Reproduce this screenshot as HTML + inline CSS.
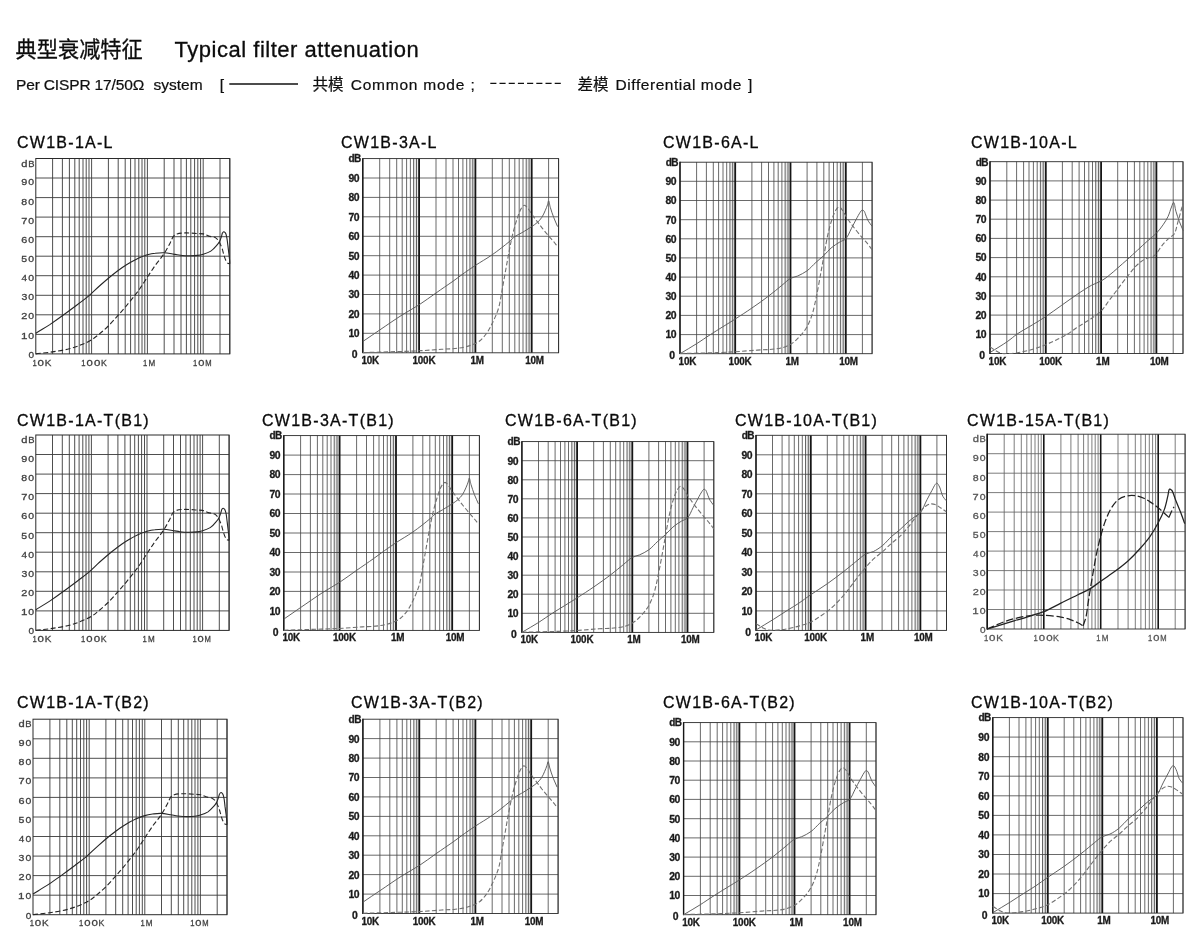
<!DOCTYPE html>
<html lang="zh-CN">
<head>
<meta charset="utf-8">
<title>典型衰减特征 Typical filter attenuation</title>
<style>
html,body{margin:0;padding:0;background:#fff;}
body{width:1200px;height:950px;position:relative;overflow:hidden;
 font-family:"Liberation Sans","Noto Sans CJK SC",sans-serif;color:#111;}
.abs{position:absolute;white-space:nowrap;line-height:1;}
.h1{font-size:21.2px;top:38px;color:#0c0c0c;-webkit-text-stroke:0.3px #0c0c0c;}
.sub{font-size:15.5px;top:76.6px;color:#0f0f0f;-webkit-text-stroke:0.22px #0f0f0f;}
svg{position:absolute;left:0;top:0;}
svg text{font-family:"Liberation Sans","Noto Sans CJK SC",sans-serif;}
.ct{font-size:16px;letter-spacing:1.27px;fill:#0a0a0a;stroke:#0a0a0a;stroke-width:0.3px;}
</style>
</head>
<body>
<div class="abs h1" style="left:15.6px;top:39px;">典型衰减特征</div>
<div class="abs h1" style="left:174.5px;top:38.5px;font-size:22px;letter-spacing:0.52px;">Typical filter attenuation</div>
<div class="abs sub" style="left:16px;letter-spacing:-0.15px;">Per CISPR 17/50Ω</div>
<div class="abs sub" style="left:153.5px;">system</div>
<div class="abs sub" style="left:219.8px;">[</div>
<div class="abs sub" style="left:312.5px;">共模</div>
<div class="abs sub" style="left:350.8px;letter-spacing:0.75px;">Common mode</div>
<div class="abs sub" style="left:470.5px;">;</div>
<div class="abs sub" style="left:577.5px;">差模</div>
<div class="abs sub" style="left:615.6px;letter-spacing:0.55px;">Differential mode</div>
<div class="abs sub" style="left:748px;">]</div>
<svg width="1200" height="950" viewBox="0 0 1200 950">
<path d="M229.3 84H298" stroke="#111" stroke-width="1.5" fill="none"/>
<path d="M490.3 83.4H562" stroke="#111" stroke-width="1.4" stroke-dasharray="6.1 3.1" fill="none"/>

<text class="ct" x="17" y="147.8">CW1B-1A-L</text>
<g>
<path d="M52.6 158.5V353.9M62.4 158.5V353.9M69.4 158.5V353.9M74.8 158.5V353.9M79.2 158.5V353.9M83.0 158.5V353.9M86.2 158.5V353.9M89.0 158.5V353.9M108.4 158.5V353.9M118.2 158.5V353.9M125.2 158.5V353.9M130.6 158.5V353.9M135.0 158.5V353.9M138.8 158.5V353.9M142.0 158.5V353.9M144.8 158.5V353.9M164.2 158.5V353.9M174.0 158.5V353.9M181.0 158.5V353.9M186.4 158.5V353.9M190.8 158.5V353.9M194.6 158.5V353.9M197.8 158.5V353.9M200.6 158.5V353.9M220.0 158.5V353.9M229.8 158.5V353.9M35.8 334.4H229.8M35.8 314.8H229.8M35.8 295.3H229.8M35.8 275.7H229.8M35.8 256.2H229.8M35.8 236.7H229.8M35.8 217.1H229.8M35.8 197.6H229.8M35.8 178.0H229.8" stroke="#3a3a3a" stroke-width="0.9" fill="none"/>
<path d="M91.6 158.5V353.9M147.4 158.5V353.9M203.2 158.5V353.9" stroke="#3a3a3a" stroke-width="0.9" fill="none"/>
<rect x="35.8" y="158.5" width="194.0" height="195.4" fill="none" stroke="#2a2a2a" stroke-width="1.0"/>
<path d="M35.8 333.2 C40.4 330.3 45.1 327.6 49.8 324.6 C54.4 321.5 59.1 318.2 63.7 314.8 C68.4 311.4 73.2 307.8 77.6 304.5 C81.7 301.3 85.6 298.5 89.4 295.3 C93.1 292.1 96.3 288.7 100.0 285.5 C103.7 282.2 107.6 278.8 111.4 275.7 C115.0 272.8 118.9 269.9 122.3 267.5 C125.2 265.5 127.9 263.9 130.7 262.3 C133.2 260.8 135.6 259.4 138.3 258.2 C141.2 256.9 144.5 255.7 147.4 254.8 C150.1 254.1 152.6 253.6 155.2 253.3 C157.9 252.9 160.7 252.6 163.6 252.7 C166.8 252.8 170.6 253.6 173.6 254.1 C176.1 254.4 177.9 254.9 180.3 255.2 C183.3 255.6 187.3 255.8 190.4 255.8 C193.0 255.8 195.4 255.7 197.6 255.4 C199.6 255.2 201.2 254.9 203.2 254.2 C205.6 253.5 208.6 252.6 210.8 251.1 C213.0 249.7 214.9 247.5 216.5 245.6 C217.8 244.1 218.8 242.8 219.7 241.2 C220.5 239.6 221.1 237.6 221.6 236.1 C222.0 234.9 222.0 233.7 222.5 232.9 C222.9 232.4 223.3 231.8 223.8 231.8 C224.3 231.8 224.9 232.4 225.4 232.9 C226.0 233.8 226.3 235.1 226.6 236.7 C227.2 239.0 227.5 242.8 227.9 245.6 C228.2 248.2 228.5 250.7 228.8 253.1 C229.1 255.2 229.4 257.4 229.5 259.3 C229.7 260.9 229.7 262.3 229.8 263.8" stroke="#262626" stroke-width="1.1" fill="none"/>
<path d="M35.8 353.9 C41.3 353.2 46.8 352.8 52.3 351.9 C57.9 351.1 64.3 350.1 69.3 348.8 C73.4 347.8 76.8 346.6 80.4 345.1 C84.2 343.6 88.4 341.8 91.6 339.8 C94.4 338.2 96.3 336.4 98.9 334.4 C101.9 331.9 105.2 329.0 108.3 326.0 C111.6 322.7 115.1 318.7 118.0 315.4 C120.6 312.6 122.6 310.3 125.1 307.4 C128.0 303.9 131.9 299.0 134.6 295.7 C136.5 293.2 137.8 291.6 139.6 289.0 C142.0 285.7 144.8 281.1 147.4 277.1 C150.0 273.2 152.5 269.2 155.2 265.4 C157.9 261.6 161.1 258.2 163.6 254.4 C166.1 250.7 168.5 246.1 170.3 242.7 C171.6 240.2 172.3 237.6 173.6 236.1 C174.6 235.0 175.5 234.4 177.0 233.9 C179.1 233.2 182.3 233.0 185.3 232.9 C188.9 232.8 193.8 233.3 197.1 233.5 C199.4 233.7 201.2 233.5 203.2 233.9 C205.1 234.3 206.8 235.5 208.8 236.1 C210.8 236.7 213.6 236.7 215.3 237.6 C216.6 238.4 217.6 239.4 218.4 240.6 C219.3 241.7 219.7 243.0 220.3 244.3 C221.0 245.7 221.6 247.1 222.2 248.8 C222.9 250.8 223.4 253.5 224.1 255.6 C224.7 257.4 225.2 259.3 226.0 260.7 C226.5 261.7 227.1 262.7 227.9 263.2 C228.5 263.6 229.2 263.6 229.8 263.8" stroke="#262626" stroke-width="1.1" stroke-dasharray="5 2.5" fill="none"/>
<g font-size="9.9" fill="#404040" stroke="#404040" stroke-width="0.3">
<text y="338.61"><tspan x="20.92" textLength="6.45" lengthAdjust="spacingAndGlyphs">1</tspan><tspan x="28.29" textLength="5.82" lengthAdjust="spacingAndGlyphs">0</tspan></text>
<text y="319.46"><tspan x="21.25" textLength="6.10" lengthAdjust="spacingAndGlyphs">2</tspan><tspan x="28.29" textLength="5.82" lengthAdjust="spacingAndGlyphs">0</tspan></text>
<text y="300.31"><tspan x="21.40" textLength="5.86" lengthAdjust="spacingAndGlyphs">3</tspan><tspan x="28.29" textLength="5.82" lengthAdjust="spacingAndGlyphs">0</tspan></text>
<text y="281.16"><tspan x="21.57" textLength="5.52" lengthAdjust="spacingAndGlyphs">4</tspan><tspan x="28.29" textLength="5.82" lengthAdjust="spacingAndGlyphs">0</tspan></text>
<text y="262.01"><tspan x="21.38" textLength="5.86" lengthAdjust="spacingAndGlyphs">5</tspan><tspan x="28.29" textLength="5.82" lengthAdjust="spacingAndGlyphs">0</tspan></text>
<text y="242.86"><tspan x="21.25" textLength="6.03" lengthAdjust="spacingAndGlyphs">6</tspan><tspan x="28.29" textLength="5.82" lengthAdjust="spacingAndGlyphs">0</tspan></text>
<text y="223.71"><tspan x="21.24" textLength="6.11" lengthAdjust="spacingAndGlyphs">7</tspan><tspan x="28.29" textLength="5.82" lengthAdjust="spacingAndGlyphs">0</tspan></text>
<text y="204.56"><tspan x="21.34" textLength="5.91" lengthAdjust="spacingAndGlyphs">8</tspan><tspan x="28.29" textLength="5.82" lengthAdjust="spacingAndGlyphs">0</tspan></text>
<text y="185.41"><tspan x="21.29" textLength="6.02" lengthAdjust="spacingAndGlyphs">9</tspan><tspan x="28.29" textLength="5.82" lengthAdjust="spacingAndGlyphs">0</tspan></text>
<text y="357.76"><tspan x="28.51" textLength="5.58" lengthAdjust="spacingAndGlyphs">0</tspan></text>
<text y="166.56"><tspan x="21.33" textLength="6.18" lengthAdjust="spacingAndGlyphs">d</tspan><tspan x="28.13" textLength="6.27" lengthAdjust="spacingAndGlyphs">B</tspan></text>
<text y="365.60"><tspan x="32.52" textLength="4.26" lengthAdjust="spacingAndGlyphs">1</tspan><tspan x="37.55" textLength="6.40" lengthAdjust="spacingAndGlyphs">0</tspan><tspan x="44.79" textLength="6.62" lengthAdjust="spacingAndGlyphs">K</tspan></text>
<text y="365.60"><tspan x="81.32" textLength="4.26" lengthAdjust="spacingAndGlyphs">1</tspan><tspan x="86.56" textLength="6.28" lengthAdjust="spacingAndGlyphs">0</tspan><tspan x="93.95" textLength="6.40" lengthAdjust="spacingAndGlyphs">0</tspan><tspan x="100.89" textLength="5.81" lengthAdjust="spacingAndGlyphs">K</tspan></text>
<text y="365.60"><tspan x="143.02" textLength="4.26" lengthAdjust="spacingAndGlyphs">1</tspan><tspan x="148.44" textLength="6.72" lengthAdjust="spacingAndGlyphs">M</tspan></text>
<text y="365.60"><tspan x="193.12" textLength="4.26" lengthAdjust="spacingAndGlyphs">1</tspan><tspan x="198.17" textLength="6.16" lengthAdjust="spacingAndGlyphs">0</tspan><tspan x="205.17" textLength="6.35" lengthAdjust="spacingAndGlyphs">M</tspan></text>
</g>
</g>
<text class="ct" x="341" y="147.8">CW1B-3A-L</text>
<g>
<path d="M379.7 158.6V352.8M389.7 158.6V352.8M396.7 158.6V352.8M402.2 158.6V352.8M406.6 158.6V352.8M410.4 158.6V352.8M413.6 158.6V352.8M416.5 158.6V352.8M436.0 158.6V352.8M446.0 158.6V352.8M453.0 158.6V352.8M458.5 158.6V352.8M462.9 158.6V352.8M466.7 158.6V352.8M469.9 158.6V352.8M472.8 158.6V352.8M492.3 158.6V352.8M502.3 158.6V352.8M509.3 158.6V352.8M514.8 158.6V352.8M519.2 158.6V352.8M523.0 158.6V352.8M526.2 158.6V352.8M529.1 158.6V352.8M548.6 158.6V352.8M558.6 158.6V352.8M362.8 333.3H558.6M362.8 313.9H558.6M362.8 294.5H558.6M362.8 275.1H558.6M362.8 255.7H558.6M362.8 236.3H558.6M362.8 216.8H558.6M362.8 197.4H558.6M362.8 178.0H558.6" stroke="#444" stroke-width="0.8" fill="none"/>
<rect x="413.6" y="158.6" width="5.5" height="194.2" fill="#000" fill-opacity="0.09"/>
<rect x="469.9" y="158.6" width="5.5" height="194.2" fill="#000" fill-opacity="0.09"/>
<rect x="526.2" y="158.6" width="5.5" height="194.2" fill="#000" fill-opacity="0.09"/>
<path d="M419.1 158.6V352.8M475.4 158.6V352.8M531.7 158.6V352.8" stroke="#161616" stroke-width="1.8" fill="none"/>
<rect x="362.8" y="158.6" width="195.8" height="194.2" fill="none" stroke="#2a2a2a" stroke-width="0.9"/>
<path d="M362.8 158.2V353.1" stroke="#161616" stroke-width="1.4"/>
<path d="M362.8 341.5 C368.4 337.7 373.7 334.1 379.7 330.0 C386.7 325.3 395.2 319.3 402.2 314.9 C408.2 311.1 413.5 308.4 419.1 304.8 C424.8 301.1 430.4 296.9 436.0 293.0 C441.6 289.0 447.8 284.9 452.9 281.3 C457.0 278.4 460.4 275.8 464.1 273.1 C467.9 270.5 471.2 268.1 475.4 265.4 C480.4 262.1 486.7 258.6 492.3 254.7 C498.0 250.7 505.1 245.1 509.2 241.7 C511.6 239.7 512.7 238.1 514.8 236.6 C517.0 235.1 519.5 234.1 522.1 232.6 C525.1 230.8 529.0 228.4 531.7 226.6 C533.9 225.1 535.6 224.0 537.3 222.5 C539.0 221.0 540.5 219.3 541.8 217.4 C543.2 215.4 544.2 212.8 545.2 210.6 C546.1 208.6 546.9 206.6 547.5 204.8 C547.9 203.4 548.2 200.9 548.6 200.9 C549.1 200.9 549.6 205.0 550.3 207.3 C551.2 210.3 552.4 214.2 553.7 217.4 C554.9 220.6 556.3 223.5 557.6 226.6" stroke="#5a5a5a" stroke-width="0.95" fill="none"/>
<path d="M362.8 352.6 C372.2 352.3 381.6 352.1 390.9 351.8 C400.3 351.5 410.2 351.3 419.1 350.8 C427.0 350.4 435.1 349.7 441.6 349.3 C446.7 348.9 451.0 348.9 455.1 348.5 C458.8 348.1 461.9 347.8 465.3 346.9 C468.7 346.1 472.7 344.7 475.4 343.4 C477.3 342.6 478.5 341.8 479.9 340.7 C481.3 339.6 482.5 338.3 483.8 336.8 C485.4 335.1 487.0 333.0 488.3 330.8 C489.8 328.5 491.1 325.8 492.3 323.2 C493.5 320.8 494.6 318.5 495.7 315.9 C496.9 313.0 498.1 310.1 499.0 306.5 C500.2 302.1 500.9 296.7 501.9 291.4 C502.9 285.5 504.1 279.2 505.2 272.8 C506.5 265.8 507.8 258.0 509.2 251.0 C510.4 244.6 511.7 238.2 513.1 232.6 C514.4 227.7 515.6 223.1 517.1 219.0 C518.3 215.3 519.5 211.3 521.0 208.9 C522.0 207.2 523.2 205.3 524.4 205.2 C525.5 205.1 526.7 206.9 527.8 208.1 C529.1 209.7 530.2 212.0 531.7 214.1 C533.4 216.5 535.5 219.3 537.3 221.7 C539.1 224.0 540.6 226.0 542.4 228.3 C544.3 230.8 546.6 233.5 548.6 235.9 C550.3 238.0 552.1 239.8 553.7 241.7 C555.1 243.4 556.3 245.1 557.6 246.7" stroke="#707070" stroke-width="1.1" stroke-dasharray="4.6 2.3" fill="none"/>
<g font-size="10.4" letter-spacing="-0.45" font-weight="bold" fill="#1a1a1a" stroke="#1a1a1a" stroke-width="0.3">
<text x="357.2" y="358.3" text-anchor="end">0</text>
<text x="359.1" y="337.2" text-anchor="end">10</text>
<text x="359.1" y="317.7" text-anchor="end">20</text>
<text x="359.1" y="298.3" text-anchor="end">30</text>
<text x="359.1" y="278.9" text-anchor="end">40</text>
<text x="359.1" y="259.5" text-anchor="end">50</text>
<text x="359.1" y="240.1" text-anchor="end">60</text>
<text x="359.1" y="220.7" text-anchor="end">70</text>
<text x="359.1" y="201.3" text-anchor="end">80</text>
<text x="359.1" y="181.8" text-anchor="end">90</text>
<text x="360.8" y="162.4" text-anchor="end" font-size="10" letter-spacing="-0.5">dB</text>
</g>
<g font-size="9.9" letter-spacing="-0.2" font-weight="bold" fill="#1a1a1a" stroke="#1a1a1a" stroke-width="0.3">
<text transform="translate(361.4 363.8) scale(1 1.1)">10K</text>
<text transform="translate(412.5 363.8) scale(1 1.1)">100K</text>
<text transform="translate(470.4 363.8) scale(1 1.1)">1M</text>
<text transform="translate(525.2 363.8) scale(1 1.1)">10M</text>
</g>
</g>
<text class="ct" x="663" y="147.8">CW1B-6A-L</text>
<g>
<path d="M696.6 162.2V353.7M706.4 162.2V353.7M713.3 162.2V353.7M718.6 162.2V353.7M723.0 162.2V353.7M726.7 162.2V353.7M729.9 162.2V353.7M732.7 162.2V353.7M751.9 162.2V353.7M761.6 162.2V353.7M768.5 162.2V353.7M773.9 162.2V353.7M778.2 162.2V353.7M781.9 162.2V353.7M785.1 162.2V353.7M788.0 162.2V353.7M807.1 162.2V353.7M816.9 162.2V353.7M823.8 162.2V353.7M829.1 162.2V353.7M833.5 162.2V353.7M837.2 162.2V353.7M840.4 162.2V353.7M843.2 162.2V353.7M862.4 162.2V353.7M872.1 162.2V353.7M680.0 334.6H872.1M680.0 315.4H872.1M680.0 296.2H872.1M680.0 277.1H872.1M680.0 257.9H872.1M680.0 238.8H872.1M680.0 219.7H872.1M680.0 200.5H872.1M680.0 181.3H872.1" stroke="#444" stroke-width="0.8" fill="none"/>
<rect x="729.9" y="162.2" width="5.4" height="191.5" fill="#000" fill-opacity="0.09"/>
<rect x="785.1" y="162.2" width="5.4" height="191.5" fill="#000" fill-opacity="0.09"/>
<rect x="840.4" y="162.2" width="5.4" height="191.5" fill="#000" fill-opacity="0.09"/>
<path d="M735.2 162.2V353.7M790.5 162.2V353.7M845.8 162.2V353.7" stroke="#161616" stroke-width="1.8" fill="none"/>
<rect x="680.0" y="162.2" width="192.1" height="191.5" fill="none" stroke="#2a2a2a" stroke-width="0.9"/>
<path d="M680.0 161.8V354.1" stroke="#161616" stroke-width="1.4"/>
<path d="M680.0 353.7 C685.5 350.4 691.3 347.1 696.6 343.7 C701.4 340.7 705.1 338.0 710.4 334.6 C717.4 330.0 727.8 323.8 735.2 319.0 C741.4 315.1 746.3 311.9 751.8 308.1 C757.4 304.3 763.2 300.2 768.4 296.2 C773.2 292.6 777.9 288.6 781.9 285.3 C785.1 282.8 787.6 280.0 790.5 278.4 C792.9 277.1 795.2 277.1 797.7 276.0 C800.7 274.6 804.1 272.9 807.1 270.8 C810.2 268.5 813.0 265.0 815.9 262.4 C818.6 260.0 821.1 258.0 823.6 255.7 C826.2 253.2 828.4 250.3 831.1 248.0 C833.8 245.7 837.0 243.7 839.7 242.1 C841.8 240.7 844.0 240.6 845.8 238.8 C848.0 236.5 849.5 232.0 851.3 228.7 C853.0 225.5 854.7 222.1 856.2 219.3 C857.6 216.8 859.0 214.0 860.1 212.4 C860.7 211.4 861.2 210.6 861.8 210.3 C862.1 210.0 862.5 210.0 862.9 210.1 C863.4 210.2 863.8 210.8 864.3 211.4 C865.0 212.5 865.5 214.6 866.2 216.2 C866.9 217.9 867.5 219.6 868.4 221.2 C869.4 222.9 870.8 224.5 872.0 226.2" stroke="#5a5a5a" stroke-width="0.95" fill="none"/>
<path d="M680.0 353.5 C689.2 353.3 698.4 353.2 707.6 352.9 C716.8 352.6 726.6 352.3 735.2 351.8 C743.0 351.3 750.7 350.5 757.4 350.1 C762.7 349.7 767.6 349.7 772.0 349.3 C775.8 348.9 779.0 348.6 782.2 347.8 C785.2 346.9 788.2 345.6 790.5 344.3 C792.3 343.4 793.5 342.4 794.9 341.3 C796.5 340.0 797.9 338.3 799.3 336.8 C800.7 335.4 802.0 334.1 803.2 332.4 C804.6 330.7 806.0 328.7 807.1 326.7 C808.2 324.8 809.0 322.9 809.8 320.8 C810.8 318.4 811.7 316.2 812.6 313.1 C813.9 308.6 815.2 302.4 816.5 296.2 C818.0 289.0 819.6 279.5 820.9 272.5 C821.9 266.9 822.7 262.8 823.6 257.4 C824.8 250.9 826.1 242.7 827.5 236.1 C828.8 230.4 830.1 224.9 831.7 220.2 C832.9 216.4 834.2 212.4 835.8 210.1 C836.8 208.6 838.0 207.0 839.1 207.0 C840.2 207.0 841.4 208.8 842.4 210.1 C843.7 211.7 844.4 213.8 845.8 216.0 C847.6 219.0 850.3 222.7 852.9 226.2 C855.8 230.0 859.6 234.6 862.3 237.8 C864.4 240.3 866.2 242.1 867.9 244.2 C869.4 246.0 870.6 247.9 872.0 249.7" stroke="#707070" stroke-width="1.1" stroke-dasharray="4.6 2.3" fill="none"/>
<g font-size="10.4" letter-spacing="-0.45" font-weight="bold" fill="#1a1a1a" stroke="#1a1a1a" stroke-width="0.3">
<text x="674.5" y="359.2" text-anchor="end">0</text>
<text x="676.2" y="338.4" text-anchor="end">10</text>
<text x="676.2" y="319.2" text-anchor="end">20</text>
<text x="676.2" y="300.1" text-anchor="end">30</text>
<text x="676.2" y="280.9" text-anchor="end">40</text>
<text x="676.2" y="261.8" text-anchor="end">50</text>
<text x="676.2" y="242.6" text-anchor="end">60</text>
<text x="676.2" y="223.5" text-anchor="end">70</text>
<text x="676.2" y="204.3" text-anchor="end">80</text>
<text x="676.2" y="185.2" text-anchor="end">90</text>
<text x="678.0" y="166.0" text-anchor="end" font-size="10" letter-spacing="-0.5">dB</text>
</g>
<g font-size="9.9" letter-spacing="-0.2" font-weight="bold" fill="#1a1a1a" stroke="#1a1a1a" stroke-width="0.3">
<text transform="translate(678.6 364.7) scale(1 1.1)">10K</text>
<text transform="translate(728.6 364.7) scale(1 1.1)">100K</text>
<text transform="translate(785.5 364.7) scale(1 1.1)">1M</text>
<text transform="translate(839.2 364.7) scale(1 1.1)">10M</text>
</g>
</g>
<text class="ct" x="971" y="147.8">CW1B-10A-L</text>
<g>
<path d="M1006.8 161.7V353.5M1016.6 161.7V353.5M1023.6 161.7V353.5M1029.0 161.7V353.5M1033.4 161.7V353.5M1037.2 161.7V353.5M1040.4 161.7V353.5M1043.2 161.7V353.5M1062.4 161.7V353.5M1072.2 161.7V353.5M1079.1 161.7V353.5M1084.5 161.7V353.5M1088.8 161.7V353.5M1092.5 161.7V353.5M1095.7 161.7V353.5M1098.6 161.7V353.5M1117.7 161.7V353.5M1127.5 161.7V353.5M1134.4 161.7V353.5M1139.8 161.7V353.5M1144.1 161.7V353.5M1147.8 161.7V353.5M1151.0 161.7V353.5M1153.9 161.7V353.5M1173.2 161.7V353.5M1183.0 161.7V353.5M990.0 334.3H1183.0M990.0 315.1H1183.0M990.0 296.0H1183.0M990.0 276.8H1183.0M990.0 257.6H1183.0M990.0 238.4H1183.0M990.0 219.2H1183.0M990.0 200.1H1183.0M990.0 180.9H1183.0" stroke="#444" stroke-width="0.8" fill="none"/>
<rect x="1040.4" y="161.7" width="5.4" height="191.8" fill="#000" fill-opacity="0.09"/>
<rect x="1095.7" y="161.7" width="5.4" height="191.8" fill="#000" fill-opacity="0.09"/>
<rect x="1151.0" y="161.7" width="5.4" height="191.8" fill="#000" fill-opacity="0.09"/>
<path d="M1045.8 161.7V353.5M1101.1 161.7V353.5M1156.4 161.7V353.5" stroke="#161616" stroke-width="1.8" fill="none"/>
<rect x="990.0" y="161.7" width="193.0" height="191.8" fill="none" stroke="#2a2a2a" stroke-width="0.9"/>
<path d="M990.0 161.3V353.9" stroke="#161616" stroke-width="1.4"/>
<path d="M990.0 352.5 C995.8 348.9 1002.4 345.0 1007.3 341.6 C1011.2 338.9 1013.6 336.5 1017.3 333.9 C1021.8 330.9 1027.8 327.7 1032.7 324.7 C1037.2 321.9 1041.3 319.5 1045.8 316.5 C1050.9 313.1 1056.6 308.8 1061.8 305.2 C1066.8 301.7 1071.3 298.3 1076.2 295.0 C1081.2 291.6 1087.1 287.7 1091.7 285.2 C1095.1 283.4 1098.2 282.6 1101.1 281.0 C1103.9 279.4 1106.2 277.7 1108.8 275.6 C1111.8 273.4 1114.7 270.6 1117.7 268.0 C1120.8 265.2 1124.1 262.4 1127.4 259.5 C1130.7 256.5 1134.2 253.2 1137.6 250.1 C1140.9 247.0 1144.3 243.8 1147.6 240.9 C1150.6 238.2 1153.8 236.0 1156.4 233.2 C1158.9 230.6 1161.1 227.7 1163.1 224.8 C1165.0 222.1 1166.7 219.3 1168.1 216.4 C1169.5 213.4 1170.4 209.5 1171.5 207.0 C1172.2 205.1 1173.0 202.3 1173.7 202.4 C1174.6 202.5 1175.0 208.2 1175.9 211.2 C1176.9 214.5 1178.0 218.1 1179.3 221.3 C1180.5 224.6 1181.9 227.6 1183.2 230.7" stroke="#5a5a5a" stroke-width="0.95" fill="none"/>
<path d="M990.0 346.8 C992.2 348.3 994.5 350.0 996.7 351.2 C998.6 352.2 1000.4 353.1 1002.3 353.5 C1004.0 353.8 1005.3 353.6 1007.3 353.5 C1010.1 353.4 1013.7 353.3 1017.3 352.7 C1021.9 352.0 1027.8 350.7 1032.7 349.3 C1037.3 348.0 1041.7 346.3 1045.8 344.7 C1049.5 343.2 1052.7 341.6 1056.3 339.9 C1060.1 338.0 1064.4 336.1 1067.9 333.9 C1071.0 332.1 1073.4 329.9 1076.2 328.0 C1079.0 326.2 1081.8 324.5 1084.5 322.8 C1087.0 321.2 1089.2 320.0 1091.7 318.2 C1094.7 316.1 1098.3 313.9 1101.1 311.1 C1104.0 308.2 1106.2 304.5 1108.8 300.9 C1111.7 297.1 1114.7 293.1 1117.7 289.1 C1120.8 284.9 1124.2 280.3 1127.4 276.4 C1130.3 272.8 1133.0 269.1 1135.9 266.2 C1138.6 263.6 1141.2 261.2 1144.2 259.5 C1147.1 257.9 1151.5 257.3 1153.6 256.1 C1154.9 255.3 1155.4 254.7 1156.4 253.6 C1158.2 251.5 1160.7 247.0 1163.1 244.2 C1165.2 241.7 1167.7 239.3 1169.8 237.5 C1171.4 236.1 1173.0 235.7 1174.2 234.0 C1175.9 231.5 1176.5 226.8 1177.6 223.1 C1178.7 219.2 1179.9 214.7 1180.9 211.2 C1181.7 208.3 1182.4 206.1 1183.2 203.5" stroke="#707070" stroke-width="1.1" stroke-dasharray="4.6 2.3" fill="none"/>
<g font-size="10.4" letter-spacing="-0.45" font-weight="bold" fill="#1a1a1a" stroke="#1a1a1a" stroke-width="0.3">
<text x="984.5" y="359.0" text-anchor="end">0</text>
<text x="986.2" y="338.1" text-anchor="end">10</text>
<text x="986.2" y="319.0" text-anchor="end">20</text>
<text x="986.2" y="299.8" text-anchor="end">30</text>
<text x="986.2" y="280.6" text-anchor="end">40</text>
<text x="986.2" y="261.4" text-anchor="end">50</text>
<text x="986.2" y="242.2" text-anchor="end">60</text>
<text x="986.2" y="223.1" text-anchor="end">70</text>
<text x="986.2" y="203.9" text-anchor="end">80</text>
<text x="986.2" y="184.7" text-anchor="end">90</text>
<text x="988.0" y="165.5" text-anchor="end" font-size="10" letter-spacing="-0.5">dB</text>
</g>
<g font-size="9.9" letter-spacing="-0.2" font-weight="bold" fill="#1a1a1a" stroke="#1a1a1a" stroke-width="0.3">
<text transform="translate(988.6 364.5) scale(1 1.1)">10K</text>
<text transform="translate(1039.2 364.5) scale(1 1.1)">100K</text>
<text transform="translate(1096.1 364.5) scale(1 1.1)">1M</text>
<text transform="translate(1149.9 364.5) scale(1 1.1)">10M</text>
</g>
</g>
<text class="ct" x="17" y="425.8">CW1B-1A-T(B1)</text>
<g>
<path d="M52.5 435.0V630.4M62.3 435.0V630.4M69.3 435.0V630.4M74.7 435.0V630.4M79.1 435.0V630.4M82.8 435.0V630.4M86.0 435.0V630.4M88.9 435.0V630.4M108.1 435.0V630.4M117.9 435.0V630.4M124.9 435.0V630.4M130.3 435.0V630.4M134.7 435.0V630.4M138.4 435.0V630.4M141.6 435.0V630.4M144.5 435.0V630.4M163.7 435.0V630.4M173.5 435.0V630.4M180.5 435.0V630.4M185.9 435.0V630.4M190.3 435.0V630.4M194.0 435.0V630.4M197.2 435.0V630.4M200.1 435.0V630.4M219.3 435.0V630.4M229.1 435.0V630.4M35.8 610.9H229.1M35.8 591.3H229.1M35.8 571.8H229.1M35.8 552.2H229.1M35.8 532.7H229.1M35.8 513.2H229.1M35.8 493.6H229.1M35.8 474.1H229.1M35.8 454.5H229.1" stroke="#3a3a3a" stroke-width="0.9" fill="none"/>
<path d="M91.4 435.0V630.4M147.0 435.0V630.4M202.6 435.0V630.4" stroke="#3a3a3a" stroke-width="0.9" fill="none"/>
<rect x="35.8" y="435.0" width="193.3" height="195.4" fill="none" stroke="#2a2a2a" stroke-width="1.0"/>
<path d="M35.8 609.7 C40.4 606.8 45.1 604.1 49.7 601.1 C54.4 598.0 59.0 594.7 63.6 591.3 C68.3 587.9 73.1 584.3 77.5 581.0 C81.6 577.8 85.4 575.0 89.2 571.8 C92.9 568.6 96.1 565.2 99.7 562.0 C103.4 558.7 107.3 555.3 111.1 552.2 C114.8 549.3 118.6 546.4 122.0 544.0 C124.9 542.0 127.6 540.4 130.3 538.8 C132.9 537.3 135.2 535.9 137.9 534.7 C140.8 533.4 144.1 532.2 147.0 531.3 C149.7 530.6 152.1 530.1 154.8 529.8 C157.5 529.4 160.2 529.1 163.1 529.2 C166.3 529.3 170.1 530.1 173.1 530.6 C175.6 530.9 177.3 531.4 179.8 531.7 C182.8 532.1 186.7 532.3 189.8 532.3 C192.4 532.3 194.8 532.2 197.0 531.9 C199.0 531.7 200.6 531.4 202.6 530.7 C205.0 530.0 207.9 529.1 210.2 527.6 C212.3 526.2 214.3 524.0 215.8 522.1 C217.1 520.6 218.2 519.3 219.0 517.7 C219.8 516.1 220.4 514.1 220.9 512.6 C221.3 511.4 221.4 510.2 221.8 509.4 C222.2 508.9 222.7 508.3 223.1 508.3 C223.6 508.3 224.2 508.9 224.7 509.4 C225.3 510.3 225.6 511.6 226.0 513.2 C226.5 515.5 226.8 519.3 227.2 522.1 C227.5 524.7 227.8 527.2 228.1 529.6 C228.4 531.7 228.7 533.9 228.8 535.8 C229.0 537.4 229.0 538.8 229.1 540.3" stroke="#262626" stroke-width="1.1" fill="none"/>
<path d="M35.8 630.4 C41.3 629.7 46.7 629.3 52.3 628.4 C57.9 627.6 64.2 626.6 69.2 625.3 C73.3 624.3 76.6 623.1 80.3 621.6 C84.0 620.1 88.2 618.3 91.4 616.3 C94.2 614.7 96.1 612.9 98.6 610.9 C101.6 608.4 105.0 605.5 108.1 602.5 C111.4 599.2 114.8 595.2 117.8 591.9 C120.3 589.1 122.3 586.8 124.8 583.9 C127.7 580.4 131.6 575.5 134.2 572.2 C136.2 569.7 137.4 568.1 139.2 565.5 C141.6 562.2 144.4 557.6 147.0 553.6 C149.6 549.7 152.1 545.7 154.8 541.9 C157.5 538.1 160.6 534.7 163.1 530.9 C165.6 527.2 168.0 522.6 169.8 519.2 C171.1 516.7 171.8 514.1 173.1 512.6 C174.1 511.5 175.0 510.9 176.5 510.4 C178.6 509.7 181.8 509.5 184.8 509.4 C188.4 509.3 193.2 509.8 196.5 510.0 C198.8 510.2 200.6 510.0 202.6 510.4 C204.5 510.8 206.2 512.0 208.2 512.6 C210.2 513.2 212.9 513.2 214.6 514.1 C216.0 514.9 216.9 515.9 217.8 517.1 C218.6 518.2 219.1 519.5 219.7 520.8 C220.3 522.2 220.9 523.6 221.5 525.3 C222.2 527.3 222.7 530.0 223.4 532.1 C224.0 533.9 224.5 535.8 225.3 537.2 C225.9 538.2 226.4 539.2 227.2 539.7 C227.8 540.1 228.5 540.1 229.1 540.3" stroke="#262626" stroke-width="1.1" stroke-dasharray="5 2.5" fill="none"/>
<g font-size="9.9" fill="#404040" stroke="#404040" stroke-width="0.3">
<text y="615.11"><tspan x="20.92" textLength="6.45" lengthAdjust="spacingAndGlyphs">1</tspan><tspan x="28.29" textLength="5.82" lengthAdjust="spacingAndGlyphs">0</tspan></text>
<text y="595.96"><tspan x="21.25" textLength="6.10" lengthAdjust="spacingAndGlyphs">2</tspan><tspan x="28.29" textLength="5.82" lengthAdjust="spacingAndGlyphs">0</tspan></text>
<text y="576.81"><tspan x="21.40" textLength="5.86" lengthAdjust="spacingAndGlyphs">3</tspan><tspan x="28.29" textLength="5.82" lengthAdjust="spacingAndGlyphs">0</tspan></text>
<text y="557.66"><tspan x="21.57" textLength="5.52" lengthAdjust="spacingAndGlyphs">4</tspan><tspan x="28.29" textLength="5.82" lengthAdjust="spacingAndGlyphs">0</tspan></text>
<text y="538.51"><tspan x="21.38" textLength="5.86" lengthAdjust="spacingAndGlyphs">5</tspan><tspan x="28.29" textLength="5.82" lengthAdjust="spacingAndGlyphs">0</tspan></text>
<text y="519.36"><tspan x="21.25" textLength="6.03" lengthAdjust="spacingAndGlyphs">6</tspan><tspan x="28.29" textLength="5.82" lengthAdjust="spacingAndGlyphs">0</tspan></text>
<text y="500.21"><tspan x="21.24" textLength="6.11" lengthAdjust="spacingAndGlyphs">7</tspan><tspan x="28.29" textLength="5.82" lengthAdjust="spacingAndGlyphs">0</tspan></text>
<text y="481.06"><tspan x="21.34" textLength="5.91" lengthAdjust="spacingAndGlyphs">8</tspan><tspan x="28.29" textLength="5.82" lengthAdjust="spacingAndGlyphs">0</tspan></text>
<text y="461.91"><tspan x="21.29" textLength="6.02" lengthAdjust="spacingAndGlyphs">9</tspan><tspan x="28.29" textLength="5.82" lengthAdjust="spacingAndGlyphs">0</tspan></text>
<text y="634.26"><tspan x="28.51" textLength="5.58" lengthAdjust="spacingAndGlyphs">0</tspan></text>
<text y="443.06"><tspan x="21.33" textLength="6.18" lengthAdjust="spacingAndGlyphs">d</tspan><tspan x="28.13" textLength="6.27" lengthAdjust="spacingAndGlyphs">B</tspan></text>
<text y="642.10"><tspan x="32.52" textLength="4.26" lengthAdjust="spacingAndGlyphs">1</tspan><tspan x="37.55" textLength="6.40" lengthAdjust="spacingAndGlyphs">0</tspan><tspan x="44.79" textLength="6.62" lengthAdjust="spacingAndGlyphs">K</tspan></text>
<text y="642.10"><tspan x="81.12" textLength="4.26" lengthAdjust="spacingAndGlyphs">1</tspan><tspan x="86.36" textLength="6.28" lengthAdjust="spacingAndGlyphs">0</tspan><tspan x="93.75" textLength="6.40" lengthAdjust="spacingAndGlyphs">0</tspan><tspan x="100.69" textLength="5.81" lengthAdjust="spacingAndGlyphs">K</tspan></text>
<text y="642.10"><tspan x="142.62" textLength="4.26" lengthAdjust="spacingAndGlyphs">1</tspan><tspan x="148.04" textLength="6.72" lengthAdjust="spacingAndGlyphs">M</tspan></text>
<text y="642.10"><tspan x="192.52" textLength="4.26" lengthAdjust="spacingAndGlyphs">1</tspan><tspan x="197.57" textLength="6.16" lengthAdjust="spacingAndGlyphs">0</tspan><tspan x="204.57" textLength="6.35" lengthAdjust="spacingAndGlyphs">M</tspan></text>
</g>
</g>
<text class="ct" x="262" y="425.8">CW1B-3A-T(B1)</text>
<g>
<path d="M300.6 435.6V630.4M310.4 435.6V630.4M317.4 435.6V630.4M322.8 435.6V630.4M327.2 435.6V630.4M331.0 435.6V630.4M334.2 435.6V630.4M337.0 435.6V630.4M356.6 435.6V630.4M366.5 435.6V630.4M373.6 435.6V630.4M379.0 435.6V630.4M383.5 435.6V630.4M387.3 435.6V630.4M390.5 435.6V630.4M393.4 435.6V630.4M412.9 435.6V630.4M422.8 435.6V630.4M429.8 435.6V630.4M435.3 435.6V630.4M439.7 435.6V630.4M443.5 435.6V630.4M446.8 435.6V630.4M449.6 435.6V630.4M469.4 435.6V630.4M479.4 435.6V630.4M283.8 610.9H479.4M283.8 591.4H479.4M283.8 572.0H479.4M283.8 552.5H479.4M283.8 533.0H479.4M283.8 513.5H479.4M283.8 494.0H479.4M283.8 474.6H479.4M283.8 455.1H479.4" stroke="#444" stroke-width="0.8" fill="none"/>
<rect x="334.2" y="435.6" width="5.4" height="194.8" fill="#000" fill-opacity="0.09"/>
<rect x="390.5" y="435.6" width="5.5" height="194.8" fill="#000" fill-opacity="0.09"/>
<rect x="446.8" y="435.6" width="5.4" height="194.8" fill="#000" fill-opacity="0.09"/>
<path d="M339.6 435.6V630.4M396.0 435.6V630.4M452.2 435.6V630.4" stroke="#161616" stroke-width="1.8" fill="none"/>
<rect x="283.8" y="435.6" width="195.6" height="194.8" fill="none" stroke="#2a2a2a" stroke-width="0.9"/>
<path d="M283.8 435.2V630.8" stroke="#161616" stroke-width="1.4"/>
<path d="M283.8 619.1 C289.4 615.3 294.6 611.7 300.5 607.6 C307.4 602.9 315.9 596.9 322.9 592.4 C328.8 588.6 334.1 585.9 339.6 582.3 C345.3 578.6 350.9 574.3 356.5 570.4 C362.2 566.5 368.4 562.3 373.4 558.7 C377.6 555.8 380.9 553.2 384.7 550.5 C388.5 547.9 391.8 545.5 396.0 542.7 C401.0 539.4 407.3 535.9 412.9 532.0 C418.6 528.0 425.7 522.4 429.7 519.0 C432.1 516.9 433.3 515.4 435.3 513.9 C437.5 512.3 440.1 511.4 442.6 509.8 C445.6 508.0 449.4 505.6 452.2 503.8 C454.4 502.3 456.2 501.2 457.9 499.7 C459.6 498.2 461.2 496.5 462.5 494.6 C463.8 492.6 464.9 490.0 465.9 487.8 C466.8 485.8 467.6 483.7 468.2 482.0 C468.6 480.5 468.9 478.1 469.3 478.1 C469.8 478.1 470.3 482.1 471.0 484.5 C471.9 487.5 473.2 491.4 474.4 494.6 C475.7 497.8 477.1 500.7 478.4 503.8" stroke="#5a5a5a" stroke-width="0.95" fill="none"/>
<path d="M283.8 630.2 C293.1 629.9 302.4 629.7 311.7 629.4 C321.0 629.1 330.8 628.9 339.6 628.5 C347.5 628.0 355.6 627.3 362.2 626.9 C367.2 626.6 371.5 626.6 375.7 626.1 C379.3 625.7 382.5 625.4 385.8 624.6 C389.3 623.7 393.3 622.3 396.0 621.0 C397.9 620.2 399.1 619.4 400.5 618.3 C401.9 617.2 403.1 615.9 404.4 614.4 C405.9 612.7 407.6 610.6 408.9 608.4 C410.4 606.1 411.6 603.3 412.9 600.8 C414.1 598.3 415.2 596.0 416.2 593.4 C417.4 590.5 418.6 587.6 419.6 584.0 C420.8 579.6 421.4 574.2 422.4 568.8 C423.5 562.9 424.6 556.6 425.8 550.1 C427.0 543.1 428.4 535.3 429.7 528.3 C431.0 521.9 432.2 515.5 433.7 509.8 C434.9 504.9 436.2 500.4 437.6 496.2 C438.8 492.5 440.0 488.5 441.5 486.1 C442.6 484.4 443.7 482.4 444.9 482.4 C446.0 482.3 447.2 484.0 448.3 485.3 C449.6 486.9 450.7 489.2 452.2 491.3 C453.9 493.7 456.0 496.5 457.9 498.9 C459.6 501.2 461.2 503.3 463.0 505.5 C465.0 508.0 467.3 510.8 469.3 513.1 C471.1 515.2 472.9 517.1 474.4 519.0 C475.9 520.7 477.1 522.4 478.4 524.0" stroke="#707070" stroke-width="1.1" stroke-dasharray="4.6 2.3" fill="none"/>
<g font-size="10.4" letter-spacing="-0.45" font-weight="bold" fill="#1a1a1a" stroke="#1a1a1a" stroke-width="0.3">
<text x="278.2" y="635.9" text-anchor="end">0</text>
<text x="280.1" y="614.7" text-anchor="end">10</text>
<text x="280.1" y="595.3" text-anchor="end">20</text>
<text x="280.1" y="575.8" text-anchor="end">30</text>
<text x="280.1" y="556.3" text-anchor="end">40</text>
<text x="280.1" y="536.8" text-anchor="end">50</text>
<text x="280.1" y="517.3" text-anchor="end">60</text>
<text x="280.1" y="497.9" text-anchor="end">70</text>
<text x="280.1" y="478.4" text-anchor="end">80</text>
<text x="280.1" y="458.9" text-anchor="end">90</text>
<text x="281.8" y="439.4" text-anchor="end" font-size="10" letter-spacing="-0.5">dB</text>
</g>
<g font-size="9.9" letter-spacing="-0.2" font-weight="bold" fill="#1a1a1a" stroke="#1a1a1a" stroke-width="0.3">
<text transform="translate(282.4 641.4) scale(1 1.1)">10K</text>
<text transform="translate(333.0 641.4) scale(1 1.1)">100K</text>
<text transform="translate(391.0 641.4) scale(1 1.1)">1M</text>
<text transform="translate(445.7 641.4) scale(1 1.1)">10M</text>
</g>
</g>
<text class="ct" x="505" y="425.8">CW1B-6A-T(B1)</text>
<g>
<path d="M538.5 441.6V632.4M548.2 441.6V632.4M555.1 441.6V632.4M560.5 441.6V632.4M564.9 441.6V632.4M568.5 441.6V632.4M571.8 441.6V632.4M574.6 441.6V632.4M593.7 441.6V632.4M603.4 441.6V632.4M610.3 441.6V632.4M615.7 441.6V632.4M620.1 441.6V632.4M623.7 441.6V632.4M627.0 441.6V632.4M629.8 441.6V632.4M648.9 441.6V632.4M658.6 441.6V632.4M665.5 441.6V632.4M670.9 441.6V632.4M675.3 441.6V632.4M678.9 441.6V632.4M682.2 441.6V632.4M685.0 441.6V632.4M704.1 441.6V632.4M713.8 441.6V632.4M521.9 613.3H713.8M521.9 594.2H713.8M521.9 575.2H713.8M521.9 556.1H713.8M521.9 537.0H713.8M521.9 517.9H713.8M521.9 498.8H713.8M521.9 479.8H713.8M521.9 460.7H713.8" stroke="#444" stroke-width="0.8" fill="none"/>
<rect x="571.8" y="441.6" width="5.3" height="190.8" fill="#000" fill-opacity="0.09"/>
<rect x="627.0" y="441.6" width="5.3" height="190.8" fill="#000" fill-opacity="0.09"/>
<rect x="682.2" y="441.6" width="5.3" height="190.8" fill="#000" fill-opacity="0.09"/>
<path d="M577.1 441.6V632.4M632.3 441.6V632.4M687.5 441.6V632.4" stroke="#161616" stroke-width="1.8" fill="none"/>
<rect x="521.9" y="441.6" width="191.9" height="190.8" fill="none" stroke="#2a2a2a" stroke-width="0.9"/>
<path d="M521.9 441.2V632.8" stroke="#161616" stroke-width="1.4"/>
<path d="M521.9 632.4 C527.4 629.1 533.2 625.8 538.5 622.5 C543.3 619.4 547.0 616.7 552.3 613.3 C559.3 608.8 569.7 602.6 577.1 597.9 C583.2 594.0 588.2 590.7 593.7 587.0 C599.2 583.2 605.0 579.1 610.2 575.2 C615.0 571.5 619.7 567.5 623.7 564.3 C626.9 561.7 629.4 559.0 632.3 557.4 C634.7 556.1 637.0 556.0 639.5 554.9 C642.4 553.6 645.9 551.9 648.9 549.8 C652.0 547.5 654.8 544.0 657.7 541.4 C660.3 539.0 662.9 537.1 665.4 534.7 C668.0 532.3 670.2 529.3 672.9 527.1 C675.5 524.8 678.8 522.8 681.4 521.2 C683.6 519.8 685.7 519.7 687.5 517.9 C689.8 515.7 691.2 511.1 693.0 507.8 C694.7 504.6 696.4 501.3 698.0 498.5 C699.3 496.0 700.8 493.2 701.9 491.6 C702.5 490.7 702.9 489.8 703.5 489.5 C703.9 489.3 704.3 489.2 704.6 489.3 C705.1 489.4 705.6 490.0 706.0 490.6 C706.7 491.7 707.2 493.8 707.9 495.4 C708.6 497.0 709.2 498.8 710.1 500.4 C711.1 502.1 712.5 503.7 713.7 505.3" stroke="#5a5a5a" stroke-width="0.95" fill="none"/>
<path d="M521.9 632.2 C531.1 632.0 540.3 631.9 549.5 631.6 C558.7 631.4 568.4 631.0 577.1 630.5 C584.9 630.0 592.6 629.2 599.2 628.8 C604.6 628.4 609.4 628.5 613.9 628.0 C617.6 627.6 620.9 627.4 624.0 626.5 C627.0 625.7 630.0 624.3 632.3 623.1 C634.1 622.1 635.3 621.2 636.7 620.0 C638.2 618.7 639.7 617.1 641.1 615.6 C642.5 614.2 643.8 612.8 645.0 611.2 C646.3 609.5 647.7 607.5 648.9 605.5 C649.9 603.6 650.7 601.7 651.6 599.6 C652.6 597.2 653.5 595.0 654.4 592.0 C655.7 587.5 657.0 581.2 658.2 575.2 C659.7 568.0 661.4 558.5 662.7 551.5 C663.7 545.9 664.4 541.9 665.4 536.4 C666.6 530.0 667.8 521.8 669.3 515.2 C670.5 509.6 671.9 504.1 673.4 499.4 C674.7 495.6 676.0 491.6 677.6 489.3 C678.6 487.8 679.8 486.2 680.9 486.2 C682.0 486.2 683.2 488.0 684.2 489.3 C685.4 490.9 686.1 493.0 687.5 495.2 C689.4 498.2 692.1 501.9 694.7 505.3 C697.5 509.1 701.3 513.7 704.1 517.0 C706.1 519.4 707.9 521.2 709.6 523.3 C711.1 525.1 712.3 527.0 713.7 528.8" stroke="#707070" stroke-width="1.1" stroke-dasharray="4.6 2.3" fill="none"/>
<g font-size="10.4" letter-spacing="-0.45" font-weight="bold" fill="#1a1a1a" stroke="#1a1a1a" stroke-width="0.3">
<text x="516.4" y="637.9" text-anchor="end">0</text>
<text x="518.1" y="617.1" text-anchor="end">10</text>
<text x="518.1" y="598.1" text-anchor="end">20</text>
<text x="518.1" y="579.0" text-anchor="end">30</text>
<text x="518.1" y="559.9" text-anchor="end">40</text>
<text x="518.1" y="540.8" text-anchor="end">50</text>
<text x="518.1" y="521.7" text-anchor="end">60</text>
<text x="518.1" y="502.7" text-anchor="end">70</text>
<text x="518.1" y="483.6" text-anchor="end">80</text>
<text x="518.1" y="464.5" text-anchor="end">90</text>
<text x="519.9" y="445.4" text-anchor="end" font-size="10" letter-spacing="-0.5">dB</text>
</g>
<g font-size="9.9" letter-spacing="-0.2" font-weight="bold" fill="#1a1a1a" stroke="#1a1a1a" stroke-width="0.3">
<text transform="translate(520.5 643.4) scale(1 1.1)">10K</text>
<text transform="translate(570.5 643.4) scale(1 1.1)">100K</text>
<text transform="translate(627.3 643.4) scale(1 1.1)">1M</text>
<text transform="translate(681.0 643.4) scale(1 1.1)">10M</text>
</g>
</g>
<text class="ct" x="735" y="425.8">CW1B-10A-T(B1)</text>
<g>
<path d="M772.5 435.3V630.4M782.1 435.3V630.4M789.0 435.3V630.4M794.3 435.3V630.4M798.6 435.3V630.4M802.3 435.3V630.4M805.5 435.3V630.4M808.3 435.3V630.4M827.3 435.3V630.4M836.9 435.3V630.4M843.8 435.3V630.4M849.1 435.3V630.4M853.4 435.3V630.4M857.1 435.3V630.4M860.3 435.3V630.4M863.1 435.3V630.4M882.1 435.3V630.4M891.7 435.3V630.4M898.6 435.3V630.4M903.9 435.3V630.4M908.2 435.3V630.4M911.9 435.3V630.4M915.1 435.3V630.4M917.9 435.3V630.4M936.9 435.3V630.4M946.5 435.3V630.4M756.0 610.9H946.5M756.0 591.4H946.5M756.0 571.9H946.5M756.0 552.4H946.5M756.0 532.9H946.5M756.0 513.3H946.5M756.0 493.8H946.5M756.0 474.3H946.5M756.0 454.8H946.5" stroke="#444" stroke-width="0.8" fill="none"/>
<rect x="805.5" y="435.3" width="5.3" height="195.1" fill="#000" fill-opacity="0.09"/>
<rect x="860.3" y="435.3" width="5.3" height="195.1" fill="#000" fill-opacity="0.09"/>
<rect x="915.1" y="435.3" width="5.3" height="195.1" fill="#000" fill-opacity="0.09"/>
<path d="M810.8 435.3V630.4M865.6 435.3V630.4M920.4 435.3V630.4" stroke="#161616" stroke-width="1.8" fill="none"/>
<rect x="756.0" y="435.3" width="190.5" height="195.1" fill="none" stroke="#2a2a2a" stroke-width="0.9"/>
<path d="M756.0 434.9V630.8" stroke="#161616" stroke-width="1.4"/>
<path d="M756.0 630.0 C761.8 626.4 768.0 622.7 773.5 619.3 C778.6 616.1 783.3 612.9 787.8 610.1 C791.7 607.7 795.0 605.7 798.7 603.3 C802.7 600.6 806.4 597.7 810.8 594.7 C815.8 591.2 821.8 587.6 827.2 583.8 C832.9 579.8 838.9 575.2 844.2 571.1 C849.1 567.3 854.0 563.1 857.9 560.0 C860.8 557.7 862.9 555.5 865.6 554.1 C868.1 552.8 870.7 552.8 873.3 551.6 C876.3 550.1 879.6 548.0 882.6 545.5 C885.8 542.9 888.8 538.9 891.9 536.2 C894.7 533.7 897.4 531.9 900.1 529.5 C902.9 527.1 905.7 524.0 908.3 521.7 C910.6 519.8 912.8 518.2 914.9 516.7 C916.8 515.2 918.7 514.6 920.4 512.6 C922.9 509.6 924.9 503.6 927.0 499.7 C928.7 496.4 930.4 493.3 931.9 490.5 C933.1 488.3 934.2 485.7 935.2 484.5 C935.8 483.8 936.3 483.0 936.8 483.1 C937.7 483.2 938.7 485.3 939.6 487.0 C940.8 489.4 941.5 493.9 942.9 496.4 C943.8 498.2 945.1 499.2 946.2 500.7" stroke="#5a5a5a" stroke-width="0.95" fill="none"/>
<path d="M756.0 623.6 C758.2 624.9 760.4 626.6 762.6 627.7 C764.6 628.7 766.2 629.6 768.6 630.0 C772.1 630.6 777.1 630.2 781.8 629.6 C787.1 629.0 793.6 627.5 798.7 626.1 C803.1 624.9 807.1 623.8 810.8 622.0 C814.4 620.3 817.6 618.0 820.7 616.0 C823.6 614.0 826.2 612.3 828.9 610.1 C831.7 607.8 834.5 605.1 837.1 602.5 C839.6 600.0 841.9 597.4 844.2 594.7 C846.5 592.0 848.6 589.2 850.8 586.3 C853.1 583.3 855.5 580.0 857.9 576.9 C860.4 573.8 863.0 570.6 865.6 567.6 C868.1 564.7 870.5 561.8 873.3 559.2 C876.1 556.5 879.5 554.2 882.6 551.6 C885.7 548.8 888.9 545.7 891.9 543.0 C894.7 540.6 897.5 538.7 900.1 536.2 C903.0 533.4 905.8 530.1 908.3 527.0 C910.7 524.1 912.8 521.1 914.9 518.4 C916.8 516.0 918.6 513.7 920.4 511.6 C922.0 509.7 923.6 507.8 925.3 506.5 C926.9 505.4 928.6 504.3 930.3 504.0 C931.9 503.7 933.6 504.0 935.2 504.6 C936.9 505.1 938.4 506.4 940.1 507.5 C942.1 508.7 944.1 510.2 946.2 511.6" stroke="#707070" stroke-width="1.1" stroke-dasharray="4.6 2.3" fill="none"/>
<g font-size="10.4" letter-spacing="-0.45" font-weight="bold" fill="#1a1a1a" stroke="#1a1a1a" stroke-width="0.3">
<text x="750.5" y="635.9" text-anchor="end">0</text>
<text x="752.2" y="614.7" text-anchor="end">10</text>
<text x="752.2" y="595.2" text-anchor="end">20</text>
<text x="752.2" y="575.7" text-anchor="end">30</text>
<text x="752.2" y="556.2" text-anchor="end">40</text>
<text x="752.2" y="536.7" text-anchor="end">50</text>
<text x="752.2" y="517.2" text-anchor="end">60</text>
<text x="752.2" y="497.7" text-anchor="end">70</text>
<text x="752.2" y="478.1" text-anchor="end">80</text>
<text x="752.2" y="458.6" text-anchor="end">90</text>
<text x="754.0" y="439.1" text-anchor="end" font-size="10" letter-spacing="-0.5">dB</text>
</g>
<g font-size="9.9" letter-spacing="-0.2" font-weight="bold" fill="#1a1a1a" stroke="#1a1a1a" stroke-width="0.3">
<text transform="translate(754.6 641.4) scale(1 1.1)">10K</text>
<text transform="translate(804.2 641.4) scale(1 1.1)">100K</text>
<text transform="translate(860.6 641.4) scale(1 1.1)">1M</text>
<text transform="translate(913.9 641.4) scale(1 1.1)">10M</text>
</g>
</g>
<text class="ct" x="967" y="425.8">CW1B-15A-T(B1)</text>
<g>
<path d="M1004.2 434.2V629.0M1014.2 434.2V629.0M1021.3 434.2V629.0M1026.8 434.2V629.0M1031.2 434.2V629.0M1035.0 434.2V629.0M1038.3 434.2V629.0M1041.2 434.2V629.0M1060.9 434.2V629.0M1070.9 434.2V629.0M1078.1 434.2V629.0M1083.6 434.2V629.0M1088.1 434.2V629.0M1091.9 434.2V629.0M1095.2 434.2V629.0M1098.1 434.2V629.0M1118.0 434.2V629.0M1128.1 434.2V629.0M1135.3 434.2V629.0M1140.9 434.2V629.0M1145.4 434.2V629.0M1149.3 434.2V629.0M1152.6 434.2V629.0M1155.6 434.2V629.0M1175.2 434.2V629.0M1185.1 434.2V629.0M987.2 609.5H1185.1M987.2 590.0H1185.1M987.2 570.6H1185.1M987.2 551.1H1185.1M987.2 531.6H1185.1M987.2 512.1H1185.1M987.2 492.6H1185.1M987.2 473.2H1185.1M987.2 453.7H1185.1" stroke="#666" stroke-width="0.85" fill="none"/>
<path d="M1043.8 434.2V629.0M1100.7 434.2V629.0M1158.2 434.2V629.0" stroke="#161616" stroke-width="1.6" fill="none"/>
<rect x="987.2" y="434.2" width="197.9" height="194.8" fill="none" stroke="#2a2a2a" stroke-width="0.9"/>
<path d="M987.2 433.8V629.4" stroke="#161616" stroke-width="1.6"/>
<path d="M987.2 629.0 C992.9 627.3 999.3 625.4 1004.2 623.9 C1008.0 622.8 1010.7 621.9 1014.2 620.8 C1018.2 619.6 1023.0 618.3 1026.8 617.1 C1030.1 616.1 1033.0 615.1 1035.9 614.2 C1038.6 613.3 1040.7 612.9 1043.8 611.7 C1048.5 609.8 1055.2 605.9 1060.9 603.1 C1066.6 600.3 1072.8 597.3 1077.9 594.7 C1082.3 592.6 1086.1 591.1 1089.9 588.9 C1093.7 586.6 1096.9 583.9 1100.7 581.3 C1104.9 578.4 1109.5 575.4 1113.9 572.1 C1118.5 568.7 1123.4 565.0 1127.7 561.2 C1131.9 557.5 1135.6 553.6 1139.2 549.5 C1142.9 545.5 1146.4 541.5 1149.6 537.1 C1152.8 532.6 1155.7 527.6 1158.2 522.8 C1160.6 518.4 1162.8 513.9 1164.4 509.4 C1166.0 505.0 1166.9 499.9 1167.8 496.1 C1168.5 493.4 1168.5 489.6 1169.5 489.1 C1170.1 488.9 1171.0 489.5 1171.7 490.3 C1173.2 491.9 1174.3 496.7 1175.7 500.2 C1177.3 504.2 1179.2 508.7 1180.8 512.7 C1182.2 516.4 1183.4 520.0 1184.7 523.6" stroke="#222" stroke-width="1.25" fill="none"/>
<path d="M987.2 629.0 C992.9 626.6 999.2 623.6 1004.2 621.8 C1007.9 620.4 1010.6 619.6 1014.2 618.7 C1018.1 617.7 1023.1 616.7 1026.8 616.1 C1029.8 615.7 1032.2 615.4 1035.0 615.3 C1037.9 615.1 1040.4 615.1 1043.8 615.3 C1048.6 615.5 1056.0 616.2 1060.9 617.1 C1064.7 617.8 1067.9 618.8 1070.9 619.8 C1073.5 620.7 1075.8 621.7 1077.9 622.8 C1079.8 623.7 1081.4 624.8 1083.1 625.9" stroke="#222" stroke-width="1.25" stroke-dasharray="7.5 2.7" fill="none"/>
<path d="M1083.1 625.9 C1084.0 623.0 1085.1 620.6 1085.9 617.3 C1086.9 613.1 1087.4 607.6 1088.2 602.7 C1088.9 597.8 1089.6 593.1 1090.5 588.1 C1091.3 582.7 1092.3 577.1 1093.3 571.3 C1094.4 565.3 1095.4 558.8 1096.7 552.8 C1097.9 547.1 1099.2 541.7 1100.7 536.3 C1102.1 531.1 1103.5 525.8 1105.3 521.1 C1107.0 516.7 1108.7 512.3 1111.0 508.6 C1113.2 505.2 1115.6 501.6 1118.5 499.5 C1121.2 497.5 1124.7 496.3 1127.7 495.8 C1130.4 495.2 1133.1 495.3 1135.8 495.8 C1138.6 496.2 1141.7 497.2 1144.4 498.5 C1147.2 499.8 1150.0 501.9 1152.5 503.5 C1154.6 505.0 1156.3 506.3 1158.2 507.8 C1160.1 509.4 1162.0 511.1 1163.8 512.7 C1165.6 514.3 1167.2 515.8 1168.9 517.4" stroke="#222" stroke-width="1.25" stroke-dasharray="7.5 2.7" fill="none"/>
<path d="M1168.9 517.4 C1169.9 515.3 1170.8 513.0 1171.7 511.1 C1172.5 509.6 1173.2 508.3 1174.0 506.9" stroke="#222" stroke-width="1.25" stroke-dasharray="7.5 2.7" fill="none"/>
<g font-size="9.7" fill="#555" stroke="#555" stroke-width="0.3">
<text y="614.19"><tspan x="972.32" textLength="6.45" lengthAdjust="spacingAndGlyphs">1</tspan><tspan x="979.69" textLength="5.82" lengthAdjust="spacingAndGlyphs">0</tspan></text>
<text y="595.10"><tspan x="972.65" textLength="6.10" lengthAdjust="spacingAndGlyphs">2</tspan><tspan x="979.69" textLength="5.82" lengthAdjust="spacingAndGlyphs">0</tspan></text>
<text y="576.01"><tspan x="972.80" textLength="5.86" lengthAdjust="spacingAndGlyphs">3</tspan><tspan x="979.69" textLength="5.82" lengthAdjust="spacingAndGlyphs">0</tspan></text>
<text y="556.92"><tspan x="972.97" textLength="5.52" lengthAdjust="spacingAndGlyphs">4</tspan><tspan x="979.69" textLength="5.82" lengthAdjust="spacingAndGlyphs">0</tspan></text>
<text y="537.83"><tspan x="972.78" textLength="5.86" lengthAdjust="spacingAndGlyphs">5</tspan><tspan x="979.69" textLength="5.82" lengthAdjust="spacingAndGlyphs">0</tspan></text>
<text y="518.74"><tspan x="972.65" textLength="6.03" lengthAdjust="spacingAndGlyphs">6</tspan><tspan x="979.69" textLength="5.82" lengthAdjust="spacingAndGlyphs">0</tspan></text>
<text y="499.65"><tspan x="972.64" textLength="6.11" lengthAdjust="spacingAndGlyphs">7</tspan><tspan x="979.69" textLength="5.82" lengthAdjust="spacingAndGlyphs">0</tspan></text>
<text y="480.56"><tspan x="972.74" textLength="5.91" lengthAdjust="spacingAndGlyphs">8</tspan><tspan x="979.69" textLength="5.82" lengthAdjust="spacingAndGlyphs">0</tspan></text>
<text y="461.47"><tspan x="972.69" textLength="6.02" lengthAdjust="spacingAndGlyphs">9</tspan><tspan x="979.69" textLength="5.82" lengthAdjust="spacingAndGlyphs">0</tspan></text>
<text y="633.29"><tspan x="979.91" textLength="5.58" lengthAdjust="spacingAndGlyphs">0</tspan></text>
<text y="442.19"><tspan x="972.73" textLength="6.18" lengthAdjust="spacingAndGlyphs">d</tspan><tspan x="979.53" textLength="6.27" lengthAdjust="spacingAndGlyphs">B</tspan></text>
<text y="641.30"><tspan x="983.92" textLength="4.26" lengthAdjust="spacingAndGlyphs">1</tspan><tspan x="988.95" textLength="6.40" lengthAdjust="spacingAndGlyphs">0</tspan><tspan x="996.19" textLength="6.62" lengthAdjust="spacingAndGlyphs">K</tspan></text>
<text y="641.30"><tspan x="1033.52" textLength="4.26" lengthAdjust="spacingAndGlyphs">1</tspan><tspan x="1038.76" textLength="6.28" lengthAdjust="spacingAndGlyphs">0</tspan><tspan x="1046.15" textLength="6.40" lengthAdjust="spacingAndGlyphs">0</tspan><tspan x="1053.09" textLength="5.81" lengthAdjust="spacingAndGlyphs">K</tspan></text>
<text y="641.30"><tspan x="1096.32" textLength="4.26" lengthAdjust="spacingAndGlyphs">1</tspan><tspan x="1101.74" textLength="6.72" lengthAdjust="spacingAndGlyphs">M</tspan></text>
<text y="641.30"><tspan x="1148.12" textLength="4.26" lengthAdjust="spacingAndGlyphs">1</tspan><tspan x="1153.17" textLength="6.16" lengthAdjust="spacingAndGlyphs">0</tspan><tspan x="1160.17" textLength="6.35" lengthAdjust="spacingAndGlyphs">M</tspan></text>
</g>
</g>
<text class="ct" x="17" y="707.9">CW1B-1A-T(B2)</text>
<g>
<path d="M49.9 719.2V914.7M59.8 719.2V914.7M66.8 719.2V914.7M72.3 719.2V914.7M76.7 719.2V914.7M80.5 719.2V914.7M83.8 719.2V914.7M86.6 719.2V914.7M105.9 719.2V914.7M115.7 719.2V914.7M122.7 719.2V914.7M128.1 719.2V914.7M132.5 719.2V914.7M136.2 719.2V914.7M139.4 719.2V914.7M142.3 719.2V914.7M161.5 719.2V914.7M171.3 719.2V914.7M178.3 719.2V914.7M183.7 719.2V914.7M188.1 719.2V914.7M191.8 719.2V914.7M195.0 719.2V914.7M197.9 719.2V914.7M217.2 719.2V914.7M227.0 719.2V914.7M33.0 895.2H227.0M33.0 875.6H227.0M33.0 856.1H227.0M33.0 836.5H227.0M33.0 817.0H227.0M33.0 797.4H227.0M33.0 777.9H227.0M33.0 758.3H227.0M33.0 738.8H227.0" stroke="#3a3a3a" stroke-width="0.9" fill="none"/>
<path d="M89.2 719.2V914.7M144.8 719.2V914.7M200.4 719.2V914.7" stroke="#3a3a3a" stroke-width="0.9" fill="none"/>
<rect x="33.0" y="719.2" width="194.0" height="195.5" fill="none" stroke="#2a2a2a" stroke-width="1.0"/>
<path d="M33.0 894.0 C37.7 891.1 42.4 888.4 47.0 885.4 C51.8 882.3 56.4 878.9 61.1 875.6 C65.8 872.2 70.7 868.6 75.2 865.2 C79.3 862.1 83.2 859.2 87.0 856.1 C90.6 852.9 93.9 849.5 97.5 846.3 C101.2 843.0 105.1 839.6 108.9 836.5 C112.6 833.6 116.4 830.7 119.8 828.3 C122.7 826.3 125.4 824.6 128.1 823.0 C130.7 821.5 133.0 820.1 135.7 818.9 C138.6 817.6 141.9 816.4 144.8 815.6 C147.5 814.8 149.9 814.4 152.6 814.0 C155.3 813.7 158.0 813.3 160.9 813.4 C164.1 813.5 167.9 814.3 170.9 814.8 C173.4 815.2 175.1 815.7 177.6 816.0 C180.6 816.3 184.5 816.6 187.6 816.6 C190.2 816.6 192.6 816.5 194.8 816.2 C196.8 815.9 198.4 815.6 200.4 815.0 C202.8 814.3 205.8 813.3 208.0 811.9 C210.2 810.4 212.1 808.2 213.7 806.4 C215.0 804.9 216.0 803.5 216.8 801.9 C217.7 800.3 218.2 798.3 218.7 796.8 C219.1 795.7 219.2 794.4 219.7 793.7 C220.0 793.1 220.5 792.5 221.0 792.5 C221.5 792.5 222.1 793.1 222.5 793.7 C223.1 794.5 223.5 795.9 223.8 797.4 C224.4 799.7 224.7 803.5 225.0 806.4 C225.4 809.0 225.7 811.5 226.0 813.8 C226.3 816.0 226.5 818.2 226.7 820.1 C226.9 821.7 226.9 823.1 227.0 824.6" stroke="#262626" stroke-width="1.1" fill="none"/>
<path d="M33.0 914.7 C38.5 914.0 44.1 913.6 49.6 912.7 C55.3 911.9 61.7 910.9 66.7 909.6 C70.9 908.5 74.3 907.4 78.0 905.9 C81.8 904.4 86.0 902.6 89.2 900.6 C92.0 898.9 93.9 897.2 96.4 895.2 C99.4 892.7 102.8 889.8 105.9 886.7 C109.2 883.5 112.6 879.5 115.6 876.2 C118.1 873.3 120.1 871.1 122.6 868.2 C125.5 864.7 129.4 859.8 132.0 856.4 C134.0 853.9 135.2 852.4 137.0 849.8 C139.4 846.4 142.2 841.8 144.8 837.9 C147.4 833.9 149.9 829.9 152.6 826.1 C155.3 822.4 158.4 819.0 160.9 815.2 C163.4 811.4 165.8 806.8 167.6 803.5 C168.9 801.0 169.6 798.3 170.9 796.8 C171.9 795.7 172.8 795.2 174.3 794.7 C176.4 793.9 179.6 793.8 182.6 793.7 C186.2 793.6 191.0 794.1 194.3 794.3 C196.6 794.4 198.4 794.2 200.4 794.7 C202.3 795.1 204.0 796.2 206.0 796.8 C208.0 797.5 210.8 797.5 212.4 798.4 C213.8 799.1 214.8 800.2 215.6 801.3 C216.5 802.4 216.9 803.7 217.5 805.0 C218.2 806.4 218.8 807.8 219.4 809.5 C220.0 811.5 220.6 814.3 221.3 816.4 C221.8 818.2 222.4 820.1 223.1 821.4 C223.7 822.5 224.3 823.5 225.0 824.0 C225.6 824.4 226.3 824.4 227.0 824.6" stroke="#262626" stroke-width="1.1" stroke-dasharray="5 2.5" fill="none"/>
<g font-size="9.9" fill="#404040" stroke="#404040" stroke-width="0.3">
<text y="899.40"><tspan x="18.12" textLength="6.45" lengthAdjust="spacingAndGlyphs">1</tspan><tspan x="25.49" textLength="5.82" lengthAdjust="spacingAndGlyphs">0</tspan></text>
<text y="880.24"><tspan x="18.45" textLength="6.10" lengthAdjust="spacingAndGlyphs">2</tspan><tspan x="25.49" textLength="5.82" lengthAdjust="spacingAndGlyphs">0</tspan></text>
<text y="861.08"><tspan x="18.60" textLength="5.86" lengthAdjust="spacingAndGlyphs">3</tspan><tspan x="25.49" textLength="5.82" lengthAdjust="spacingAndGlyphs">0</tspan></text>
<text y="841.92"><tspan x="18.77" textLength="5.52" lengthAdjust="spacingAndGlyphs">4</tspan><tspan x="25.49" textLength="5.82" lengthAdjust="spacingAndGlyphs">0</tspan></text>
<text y="822.76"><tspan x="18.58" textLength="5.86" lengthAdjust="spacingAndGlyphs">5</tspan><tspan x="25.49" textLength="5.82" lengthAdjust="spacingAndGlyphs">0</tspan></text>
<text y="803.60"><tspan x="18.45" textLength="6.03" lengthAdjust="spacingAndGlyphs">6</tspan><tspan x="25.49" textLength="5.82" lengthAdjust="spacingAndGlyphs">0</tspan></text>
<text y="784.44"><tspan x="18.44" textLength="6.11" lengthAdjust="spacingAndGlyphs">7</tspan><tspan x="25.49" textLength="5.82" lengthAdjust="spacingAndGlyphs">0</tspan></text>
<text y="765.28"><tspan x="18.54" textLength="5.91" lengthAdjust="spacingAndGlyphs">8</tspan><tspan x="25.49" textLength="5.82" lengthAdjust="spacingAndGlyphs">0</tspan></text>
<text y="746.12"><tspan x="18.49" textLength="6.02" lengthAdjust="spacingAndGlyphs">9</tspan><tspan x="25.49" textLength="5.82" lengthAdjust="spacingAndGlyphs">0</tspan></text>
<text y="918.56"><tspan x="25.71" textLength="5.58" lengthAdjust="spacingAndGlyphs">0</tspan></text>
<text y="727.26"><tspan x="18.53" textLength="6.18" lengthAdjust="spacingAndGlyphs">d</tspan><tspan x="25.33" textLength="6.27" lengthAdjust="spacingAndGlyphs">B</tspan></text>
<text y="926.40"><tspan x="29.72" textLength="4.26" lengthAdjust="spacingAndGlyphs">1</tspan><tspan x="34.75" textLength="6.40" lengthAdjust="spacingAndGlyphs">0</tspan><tspan x="41.99" textLength="6.62" lengthAdjust="spacingAndGlyphs">K</tspan></text>
<text y="926.40"><tspan x="78.92" textLength="4.26" lengthAdjust="spacingAndGlyphs">1</tspan><tspan x="84.16" textLength="6.28" lengthAdjust="spacingAndGlyphs">0</tspan><tspan x="91.55" textLength="6.40" lengthAdjust="spacingAndGlyphs">0</tspan><tspan x="98.49" textLength="5.81" lengthAdjust="spacingAndGlyphs">K</tspan></text>
<text y="926.40"><tspan x="140.42" textLength="4.26" lengthAdjust="spacingAndGlyphs">1</tspan><tspan x="145.84" textLength="6.72" lengthAdjust="spacingAndGlyphs">M</tspan></text>
<text y="926.40"><tspan x="190.32" textLength="4.26" lengthAdjust="spacingAndGlyphs">1</tspan><tspan x="195.37" textLength="6.16" lengthAdjust="spacingAndGlyphs">0</tspan><tspan x="202.37" textLength="6.35" lengthAdjust="spacingAndGlyphs">M</tspan></text>
</g>
</g>
<text class="ct" x="351" y="707.9">CW1B-3A-T(B2)</text>
<g>
<path d="M379.9 719.2V913.5M389.8 719.2V913.5M396.9 719.2V913.5M402.3 719.2V913.5M406.8 719.2V913.5M410.6 719.2V913.5M413.8 719.2V913.5M416.7 719.2V913.5M436.2 719.2V913.5M446.1 719.2V913.5M453.1 719.2V913.5M458.5 719.2V913.5M463.0 719.2V913.5M466.7 719.2V913.5M470.0 719.2V913.5M472.8 719.2V913.5M492.2 719.2V913.5M502.0 719.2V913.5M509.0 719.2V913.5M514.4 719.2V913.5M518.8 719.2V913.5M522.6 719.2V913.5M525.8 719.2V913.5M528.6 719.2V913.5M548.2 719.2V913.5M558.1 719.2V913.5M362.9 894.1H558.1M362.9 874.6H558.1M362.9 855.2H558.1M362.9 835.8H558.1M362.9 816.4H558.1M362.9 796.9H558.1M362.9 777.5H558.1M362.9 758.1H558.1M362.9 738.6H558.1" stroke="#444" stroke-width="0.8" fill="none"/>
<rect x="413.8" y="719.2" width="5.5" height="194.3" fill="#000" fill-opacity="0.09"/>
<rect x="470.0" y="719.2" width="5.4" height="194.3" fill="#000" fill-opacity="0.09"/>
<rect x="525.8" y="719.2" width="5.4" height="194.3" fill="#000" fill-opacity="0.09"/>
<path d="M419.3 719.2V913.5M475.4 719.2V913.5M531.2 719.2V913.5" stroke="#161616" stroke-width="1.8" fill="none"/>
<rect x="362.9" y="719.2" width="195.2" height="194.3" fill="none" stroke="#2a2a2a" stroke-width="0.9"/>
<path d="M362.9 718.8V913.9" stroke="#161616" stroke-width="1.4"/>
<path d="M362.9 902.2 C368.5 898.4 373.8 894.8 379.8 890.8 C386.8 886.1 395.3 880.1 402.4 875.6 C408.4 871.8 413.7 869.1 419.3 865.5 C425.0 861.8 430.5 857.6 436.1 853.7 C441.7 849.7 447.9 845.6 453.0 842.0 C457.1 839.1 460.4 836.5 464.2 833.8 C467.9 831.2 471.3 828.8 475.4 826.1 C480.4 822.7 486.6 819.3 492.1 815.4 C497.8 811.4 504.8 805.8 508.9 802.4 C511.3 800.3 512.4 798.8 514.5 797.3 C516.6 795.7 519.2 794.8 521.7 793.2 C524.7 791.5 528.5 789.1 531.2 787.2 C533.3 785.7 535.1 784.7 536.8 783.1 C538.5 781.6 540.1 780.0 541.3 778.1 C542.7 776.1 543.8 773.5 544.7 771.3 C545.6 769.3 546.4 767.2 547.0 765.4 C547.5 764.0 547.7 761.6 548.1 761.6 C548.6 761.6 549.1 765.6 549.8 768.0 C550.7 771.0 551.9 774.8 553.2 778.1 C554.4 781.2 555.8 784.2 557.1 787.2" stroke="#5a5a5a" stroke-width="0.95" fill="none"/>
<path d="M362.9 913.3 C372.3 913.0 381.7 912.8 391.1 912.5 C400.5 912.2 410.4 912.0 419.3 911.6 C427.2 911.1 435.2 910.4 441.7 910.0 C446.8 909.7 451.0 909.7 455.2 909.2 C458.8 908.8 462.0 908.5 465.3 907.7 C468.7 906.8 472.8 905.4 475.4 904.2 C477.2 903.3 478.5 902.5 479.9 901.5 C481.3 900.3 482.5 899.1 483.8 897.6 C485.3 895.8 486.9 893.7 488.2 891.5 C489.7 889.2 490.9 886.5 492.1 884.0 C493.3 881.5 494.4 879.2 495.5 876.6 C496.7 873.7 497.9 870.8 498.8 867.3 C500.0 862.9 500.7 857.4 501.6 852.1 C502.7 846.2 503.8 839.9 505.0 833.4 C506.2 826.5 507.5 818.6 508.9 811.7 C510.1 805.3 511.4 798.9 512.8 793.2 C514.0 788.3 515.3 783.8 516.7 779.6 C517.9 776.0 519.1 772.0 520.6 769.5 C521.6 767.9 522.8 765.9 523.9 765.8 C525.0 765.8 526.2 767.5 527.3 768.7 C528.7 770.3 529.7 772.7 531.2 774.8 C532.9 777.2 535.0 779.9 536.8 782.3 C538.6 784.6 540.1 786.7 541.9 789.0 C543.9 791.4 546.1 794.2 548.1 796.5 C549.9 798.6 551.6 800.5 553.2 802.4 C554.6 804.1 555.8 805.7 557.1 807.4" stroke="#707070" stroke-width="1.1" stroke-dasharray="4.6 2.3" fill="none"/>
<g font-size="10.4" letter-spacing="-0.45" font-weight="bold" fill="#1a1a1a" stroke="#1a1a1a" stroke-width="0.3">
<text x="357.3" y="919.0" text-anchor="end">0</text>
<text x="359.1" y="897.9" text-anchor="end">10</text>
<text x="359.1" y="878.5" text-anchor="end">20</text>
<text x="359.1" y="859.0" text-anchor="end">30</text>
<text x="359.1" y="839.6" text-anchor="end">40</text>
<text x="359.1" y="820.2" text-anchor="end">50</text>
<text x="359.1" y="800.7" text-anchor="end">60</text>
<text x="359.1" y="781.3" text-anchor="end">70</text>
<text x="359.1" y="761.9" text-anchor="end">80</text>
<text x="359.1" y="742.5" text-anchor="end">90</text>
<text x="360.9" y="723.0" text-anchor="end" font-size="10" letter-spacing="-0.5">dB</text>
</g>
<g font-size="9.9" letter-spacing="-0.2" font-weight="bold" fill="#1a1a1a" stroke="#1a1a1a" stroke-width="0.3">
<text transform="translate(361.5 924.5) scale(1 1.1)">10K</text>
<text transform="translate(412.7 924.5) scale(1 1.1)">100K</text>
<text transform="translate(470.4 924.5) scale(1 1.1)">1M</text>
<text transform="translate(524.7 924.5) scale(1 1.1)">10M</text>
</g>
</g>
<text class="ct" x="663" y="707.9">CW1B-6A-T(B2)</text>
<g>
<path d="M700.4 722.6V914.7M710.2 722.6V914.7M717.2 722.6V914.7M722.6 722.6V914.7M727.0 722.6V914.7M730.8 722.6V914.7M734.0 722.6V914.7M736.8 722.6V914.7M756.0 722.6V914.7M765.7 722.6V914.7M772.6 722.6V914.7M777.9 722.6V914.7M782.3 722.6V914.7M786.0 722.6V914.7M789.2 722.6V914.7M792.0 722.6V914.7M811.1 722.6V914.7M820.8 722.6V914.7M827.7 722.6V914.7M833.0 722.6V914.7M837.4 722.6V914.7M841.1 722.6V914.7M844.3 722.6V914.7M847.1 722.6V914.7M866.3 722.6V914.7M876.0 722.6V914.7M683.6 895.5H876.0M683.6 876.3H876.0M683.6 857.1H876.0M683.6 837.9H876.0M683.6 818.7H876.0M683.6 799.4H876.0M683.6 780.2H876.0M683.6 761.0H876.0M683.6 741.8H876.0" stroke="#444" stroke-width="0.8" fill="none"/>
<rect x="734.0" y="722.6" width="5.4" height="192.1" fill="#000" fill-opacity="0.09"/>
<rect x="789.2" y="722.6" width="5.3" height="192.1" fill="#000" fill-opacity="0.09"/>
<rect x="844.3" y="722.6" width="5.3" height="192.1" fill="#000" fill-opacity="0.09"/>
<path d="M739.4 722.6V914.7M794.5 722.6V914.7M849.6 722.6V914.7" stroke="#161616" stroke-width="1.8" fill="none"/>
<rect x="683.6" y="722.6" width="192.4" height="192.1" fill="none" stroke="#2a2a2a" stroke-width="0.9"/>
<path d="M683.6 722.2V915.1" stroke="#161616" stroke-width="1.4"/>
<path d="M683.6 914.7 C689.2 911.4 695.1 908.0 700.3 904.7 C705.2 901.6 708.9 898.9 714.3 895.5 C721.4 890.9 731.9 884.7 739.4 879.9 C745.5 876.0 750.5 872.8 755.9 869.0 C761.5 865.1 767.3 861.0 772.5 857.1 C777.2 853.4 782.0 849.4 786.0 846.1 C789.1 843.6 791.6 840.8 794.5 839.2 C796.9 837.9 799.2 837.8 801.7 836.7 C804.6 835.4 808.1 833.7 811.0 831.5 C814.2 829.2 817.0 825.7 819.8 823.1 C822.5 820.7 825.1 818.7 827.6 816.3 C830.1 813.9 832.3 810.9 835.0 808.7 C837.6 806.4 840.9 804.3 843.5 802.7 C845.7 801.4 847.8 801.2 849.6 799.4 C851.9 797.2 853.3 792.6 855.1 789.3 C856.8 786.1 858.5 782.7 860.1 779.8 C861.5 777.4 862.9 774.5 864.0 772.9 C864.6 772.0 865.1 771.2 865.6 770.8 C866.0 770.6 866.4 770.5 866.8 770.6 C867.2 770.8 867.7 771.3 868.1 772.0 C868.8 773.0 869.4 775.2 870.1 776.8 C870.8 778.4 871.4 780.1 872.3 781.8 C873.3 783.5 874.7 785.1 875.9 786.8" stroke="#5a5a5a" stroke-width="0.95" fill="none"/>
<path d="M683.6 914.5 C692.9 914.3 702.2 914.2 711.5 913.9 C720.8 913.6 730.7 913.3 739.4 912.8 C747.2 912.3 754.8 911.5 761.4 911.1 C766.8 910.7 771.7 910.7 776.1 910.3 C779.8 909.9 783.1 909.6 786.2 908.7 C789.2 907.9 792.2 906.5 794.5 905.3 C796.3 904.3 797.5 903.4 798.9 902.2 C800.4 900.9 801.9 899.3 803.3 897.8 C804.7 896.3 805.9 895.0 807.2 893.4 C808.5 891.6 809.9 889.6 811.0 887.6 C812.1 885.7 812.9 883.8 813.8 881.7 C814.8 879.3 815.6 877.1 816.5 874.0 C817.9 869.5 819.1 863.2 820.4 857.1 C821.9 849.8 823.5 840.3 824.8 833.2 C825.8 827.6 826.6 823.6 827.6 818.1 C828.7 811.6 830.0 803.3 831.4 796.8 C832.7 791.0 834.0 785.5 835.5 780.8 C836.8 777.0 838.1 772.9 839.7 770.6 C840.7 769.2 841.9 767.6 843.0 767.6 C844.1 767.6 845.3 769.3 846.3 770.6 C847.5 772.2 848.2 774.4 849.6 776.6 C851.5 779.6 854.2 783.3 856.8 786.8 C859.7 790.6 863.4 795.2 866.2 798.5 C868.3 800.9 870.1 802.7 871.7 804.8 C873.3 806.7 874.5 808.5 875.9 810.4" stroke="#707070" stroke-width="1.1" stroke-dasharray="4.6 2.3" fill="none"/>
<g font-size="10.4" letter-spacing="-0.45" font-weight="bold" fill="#1a1a1a" stroke="#1a1a1a" stroke-width="0.3">
<text x="678.1" y="920.2" text-anchor="end">0</text>
<text x="679.9" y="899.3" text-anchor="end">10</text>
<text x="679.9" y="880.1" text-anchor="end">20</text>
<text x="679.9" y="860.9" text-anchor="end">30</text>
<text x="679.9" y="841.7" text-anchor="end">40</text>
<text x="679.9" y="822.5" text-anchor="end">50</text>
<text x="679.9" y="803.3" text-anchor="end">60</text>
<text x="679.9" y="784.1" text-anchor="end">70</text>
<text x="679.9" y="764.8" text-anchor="end">80</text>
<text x="679.9" y="745.6" text-anchor="end">90</text>
<text x="681.6" y="726.4" text-anchor="end" font-size="10" letter-spacing="-0.5">dB</text>
</g>
<g font-size="9.9" letter-spacing="-0.2" font-weight="bold" fill="#1a1a1a" stroke="#1a1a1a" stroke-width="0.3">
<text transform="translate(682.2 925.7) scale(1 1.1)">10K</text>
<text transform="translate(732.8 925.7) scale(1 1.1)">100K</text>
<text transform="translate(789.5 925.7) scale(1 1.1)">1M</text>
<text transform="translate(843.1 925.7) scale(1 1.1)">10M</text>
</g>
</g>
<text class="ct" x="971" y="707.9">CW1B-10A-T(B2)</text>
<g>
<path d="M1009.4 717.6V913.1M1019.0 717.6V913.1M1025.9 717.6V913.1M1031.2 717.6V913.1M1035.6 717.6V913.1M1039.3 717.6V913.1M1042.5 717.6V913.1M1045.3 717.6V913.1M1064.2 717.6V913.1M1073.8 717.6V913.1M1080.6 717.6V913.1M1085.9 717.6V913.1M1090.2 717.6V913.1M1093.9 717.6V913.1M1097.0 717.6V913.1M1099.8 717.6V913.1M1118.7 717.6V913.1M1128.4 717.6V913.1M1135.2 717.6V913.1M1140.5 717.6V913.1M1144.8 717.6V913.1M1148.4 717.6V913.1M1151.6 717.6V913.1M1154.4 717.6V913.1M1173.4 717.6V913.1M1183.0 717.6V913.1M992.8 893.6H1183.0M992.8 874.0H1183.0M992.8 854.5H1183.0M992.8 834.9H1183.0M992.8 815.4H1183.0M992.8 795.8H1183.0M992.8 776.2H1183.0M992.8 756.7H1183.0M992.8 737.1H1183.0" stroke="#444" stroke-width="0.8" fill="none"/>
<rect x="1042.5" y="717.6" width="5.3" height="195.5" fill="#000" fill-opacity="0.09"/>
<rect x="1097.0" y="717.6" width="5.3" height="195.5" fill="#000" fill-opacity="0.09"/>
<rect x="1151.6" y="717.6" width="5.3" height="195.5" fill="#000" fill-opacity="0.09"/>
<path d="M1047.8 717.6V913.1M1102.3 717.6V913.1M1156.9 717.6V913.1" stroke="#161616" stroke-width="1.8" fill="none"/>
<rect x="992.8" y="717.6" width="190.2" height="195.5" fill="none" stroke="#2a2a2a" stroke-width="0.9"/>
<path d="M992.8 717.2V913.5" stroke="#161616" stroke-width="1.4"/>
<path d="M992.8 912.7 C998.7 909.1 1004.9 905.4 1010.4 902.0 C1015.4 898.8 1020.2 895.6 1024.7 892.8 C1028.6 890.3 1032.0 888.4 1035.7 885.9 C1039.7 883.3 1043.4 880.3 1047.8 877.3 C1052.8 873.9 1058.7 870.2 1064.1 866.4 C1069.8 862.4 1075.8 857.8 1081.0 853.7 C1085.9 849.9 1090.8 845.6 1094.7 842.5 C1097.6 840.2 1099.6 838.1 1102.3 836.7 C1104.7 835.4 1107.4 835.4 1109.9 834.1 C1113.0 832.7 1116.3 830.5 1119.2 828.1 C1122.5 825.4 1125.4 821.5 1128.5 818.7 C1131.3 816.2 1134.0 814.4 1136.7 812.0 C1139.5 809.6 1142.3 806.5 1144.9 804.2 C1147.1 802.3 1149.3 800.7 1151.4 799.1 C1153.3 797.7 1155.2 797.0 1156.9 795.0 C1159.4 792.1 1161.4 786.0 1163.5 782.1 C1165.2 778.8 1166.9 775.7 1168.4 772.9 C1169.6 770.7 1170.6 768.1 1171.7 766.9 C1172.2 766.2 1172.7 765.4 1173.3 765.5 C1174.2 765.6 1175.2 767.8 1176.0 769.4 C1177.3 771.8 1178.0 776.3 1179.3 778.8 C1180.3 780.6 1181.5 781.7 1182.6 783.1" stroke="#5a5a5a" stroke-width="0.95" fill="none"/>
<path d="M992.8 906.3 C995.0 907.6 997.2 909.3 999.4 910.4 C1001.4 911.4 1003.0 912.3 1005.4 912.7 C1009.0 913.3 1014.0 912.9 1018.6 912.3 C1024.0 911.7 1030.5 910.2 1035.7 908.8 C1040.1 907.6 1044.1 906.5 1047.8 904.7 C1051.3 903.0 1054.5 900.7 1057.6 898.6 C1060.5 896.7 1063.1 894.9 1065.8 892.8 C1068.6 890.5 1071.4 887.8 1074.0 885.1 C1076.5 882.6 1078.8 880.0 1081.0 877.3 C1083.3 874.6 1085.4 871.8 1087.6 868.9 C1089.9 865.9 1092.2 862.6 1094.7 859.5 C1097.1 856.4 1099.7 853.2 1102.3 850.1 C1104.8 847.2 1107.2 844.4 1109.9 841.7 C1112.8 839.0 1116.2 836.8 1119.2 834.1 C1122.4 831.4 1125.5 828.2 1128.5 825.5 C1131.3 823.1 1134.1 821.2 1136.7 818.7 C1139.5 815.9 1142.4 812.5 1144.9 809.5 C1147.3 806.6 1149.3 803.6 1151.4 800.9 C1153.3 798.5 1155.1 796.1 1156.9 794.0 C1158.5 792.2 1160.1 790.3 1161.8 789.0 C1163.4 787.8 1165.1 786.7 1166.7 786.4 C1168.3 786.1 1170.1 786.5 1171.7 787.0 C1173.4 787.6 1174.9 788.8 1176.6 789.9 C1178.5 791.2 1180.6 792.7 1182.6 794.0" stroke="#707070" stroke-width="1.1" stroke-dasharray="4.6 2.3" fill="none"/>
<g font-size="10.4" letter-spacing="-0.45" font-weight="bold" fill="#1a1a1a" stroke="#1a1a1a" stroke-width="0.3">
<text x="987.2" y="918.6" text-anchor="end">0</text>
<text x="989.0" y="897.4" text-anchor="end">10</text>
<text x="989.0" y="877.8" text-anchor="end">20</text>
<text x="989.0" y="858.3" text-anchor="end">30</text>
<text x="989.0" y="838.7" text-anchor="end">40</text>
<text x="989.0" y="819.2" text-anchor="end">50</text>
<text x="989.0" y="799.6" text-anchor="end">60</text>
<text x="989.0" y="780.1" text-anchor="end">70</text>
<text x="989.0" y="760.5" text-anchor="end">80</text>
<text x="989.0" y="741.0" text-anchor="end">90</text>
<text x="990.8" y="721.4" text-anchor="end" font-size="10" letter-spacing="-0.5">dB</text>
</g>
<g font-size="9.9" letter-spacing="-0.2" font-weight="bold" fill="#1a1a1a" stroke="#1a1a1a" stroke-width="0.3">
<text transform="translate(991.4 924.1) scale(1 1.1)">10K</text>
<text transform="translate(1041.2 924.1) scale(1 1.1)">100K</text>
<text transform="translate(1097.3 924.1) scale(1 1.1)">1M</text>
<text transform="translate(1150.4 924.1) scale(1 1.1)">10M</text>
</g>
</g>
</svg>
</body>
</html>
